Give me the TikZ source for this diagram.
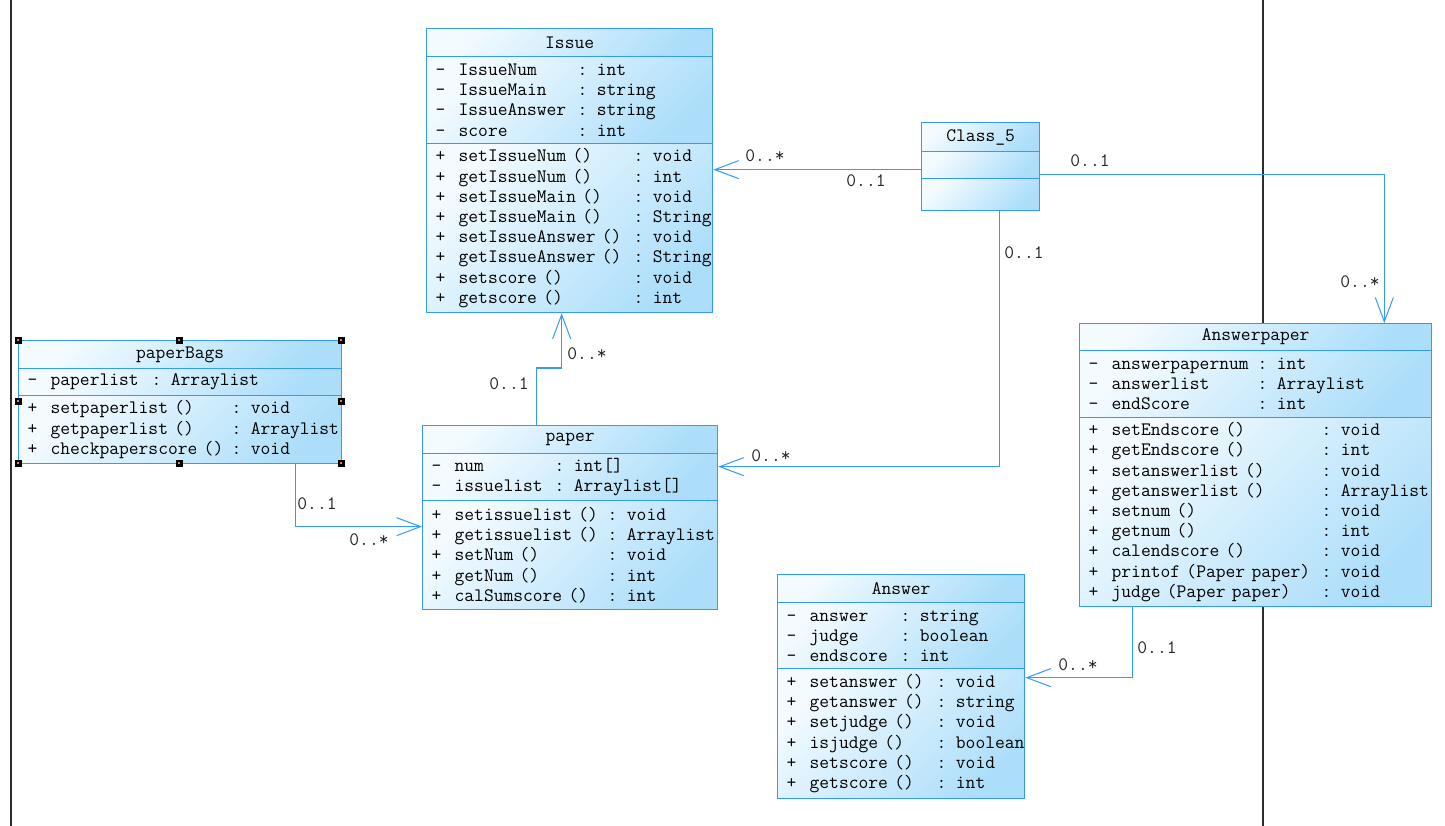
\documentclass[tikz,border=0pt]{standalone}
\usepackage{fontspec}
\usetikzlibrary{arrows.meta,calc}
\definecolor{umlblue}{RGB}{51,153,255}
\definecolor{umllight}{RGB}{244,251,255}
\definecolor{umldark}{RGB}{172,222,250}
\definecolor{frameline}{RGB}{45,45,45}
\newcommand{\mrow}[4]{\mbox{\makebox[32pt][l]{\hspace*{9pt}#1}\makebox[#2][l]{#3}#4}}
\newcommand{\umlfont}{\ttfamily\fontsize{19}{20.2}\selectfont}
\begin{document}
\begin{tikzpicture}[x=1pt,y=-1pt,
  comp/.style={draw=umlblue, line width=1.3pt, top color=umllight, bottom color=umldark,
    shading angle=45, anchor=north west, inner xsep=0pt, inner ysep=0pt, align=left, font=\umlfont},
  ctitle/.style={comp, align=center},
  assoc/.style={draw=umlblue, line width=1.2pt, -{Straight Barb[length=24pt,width=18pt,line width=1pt]}},
  mult/.style={font=\umlfont, inner sep=0pt, text=black!85},
  handle/.style={fill=black},
  frame/.style={draw=frameline, line width=1.4pt}
]
\useasboundingbox (0,0) rectangle (1445,826);
\fill[white] (0,0) rectangle (1445,826);
% frame lines
\draw[frame] (11,0) -- (11,826);
\draw[frame] (1263,0) -- (1263,826);

% Issue
\node[ctitle, minimum width=286, minimum height=28, text width=286] (issueT) at (426,28) {Issue};
\node[comp, minimum width=286, minimum height=87, text width=286] (issueA) at (426,56) {%
\mrow{-}{119pt}{IssueNum}{: int}\\
\mrow{-}{119pt}{IssueMain}{: string}\\
\mrow{-}{119pt}{IssueAnswer}{: string}\\
\mrow{-}{119pt}{score}{: int}};
\node[comp, minimum width=286, minimum height=169, text width=286] (issueM) at (426,143) {%
\mrow{+}{175pt}{setIssueNum ()}{: void}\\
\mrow{+}{175pt}{getIssueNum ()}{: int}\\
\mrow{+}{175pt}{setIssueMain ()}{: void}\\
\mrow{+}{175pt}{getIssueMain ()}{: String}\\
\mrow{+}{175pt}{setIssueAnswer ()}{: void}\\
\mrow{+}{175pt}{getIssueAnswer ()}{: String}\\
\mrow{+}{175pt}{setscore ()}{: void}\\
\mrow{+}{175pt}{getscore ()}{: int}};

% paperBags
\node[ctitle, minimum width=323, minimum height=28, text width=323] (pbT) at (18,340) {paperBags};
\node[comp, minimum width=323, minimum height=27, text width=323] (pbA) at (18,368) {%
\mrow{-}{101pt}{paperlist}{: Arraylist}};
\node[comp, minimum width=323, minimum height=68, text width=323] (pbM) at (18,395) {%
\mrow{+}{181pt}{setpaperlist ()}{: void}\\
\mrow{+}{181pt}{getpaperlist ()}{: Arraylist}\\
\mrow{+}{181pt}{checkpaperscore ()}{: void}};
\foreach \hx/\hy in {18/340,179/340,341/340,18/401,341/401,18/463,179/463,341/463}{
  \fill[handle] (\hx-3.5,\hy-3.5) rectangle (\hx+3.5,\hy+3.5);
  \fill[orange] (\hx-1.5,\hy-1.5) rectangle (\hx+0.5,\hy+0.5);}

% paper
\node[ctitle, minimum width=295, minimum height=28, text width=295] (paperT) at (422,425) {paper};
\node[comp, minimum width=295, minimum height=47, text width=295] (paperA) at (422,453) {%
\mrow{-}{100pt}{num}{: int[]}\\
\mrow{-}{100pt}{issuelist}{: Arraylist[]}};
\node[comp, minimum width=295, minimum height=109, text width=295] (paperM) at (422,500) {%
\mrow{+}{153pt}{setissuelist ()}{: void}\\
\mrow{+}{153pt}{getissuelist ()}{: Arraylist}\\
\mrow{+}{153pt}{setNum ()}{: void}\\
\mrow{+}{153pt}{getNum ()}{: int}\\
\mrow{+}{153pt}{calSumscore ()}{: int}};

% Class_5
\node[ctitle, minimum width=118, minimum height=29, text width=118] (c5T) at (921,122) {Class\_5};
\node[comp, minimum width=118, minimum height=27, text width=118] (c5A) at (921,151) {};
\node[comp, minimum width=118, minimum height=32, text width=118] (c5M) at (921,178) {};

% Answerpaper
\node[ctitle, minimum width=352, minimum height=27, text width=352] (ansT) at (1079,323) {Answerpaper};
\node[comp, minimum width=352, minimum height=67, text width=352] (ansA) at (1079,350) {%
\mrow{-}{146pt}{answerpapernum}{: int}\\
\mrow{-}{146pt}{answerlist}{: Arraylist}\\
\mrow{-}{146pt}{endScore}{: int}};
\node[comp, minimum width=352, minimum height=189, text width=352] (ansM) at (1079,417) {%
\mrow{+}{210pt}{setEndscore ()}{: void}\\
\mrow{+}{210pt}{getEndscore ()}{: int}\\
\mrow{+}{210pt}{setanswerlist ()}{: void}\\
\mrow{+}{210pt}{getanswerlist ()}{: Arraylist}\\
\mrow{+}{210pt}{setnum ()}{: void}\\
\mrow{+}{210pt}{getnum ()}{: int}\\
\mrow{+}{210pt}{calendscore ()}{: void}\\
\mrow{+}{210pt}{printof (Paper paper)}{: void}\\
\mrow{+}{210pt}{judge (Paper paper)}{: void}};

% Answer
\node[ctitle, minimum width=247, minimum height=28, text width=247] (answerT) at (777,574) {Answer};
\node[comp, minimum width=247, minimum height=66, text width=247] (answerA) at (777,602) {%
\mrow{-}{91pt}{answer}{: string}\\
\mrow{-}{91pt}{judge}{: boolean}\\
\mrow{-}{91pt}{endscore}{: int}};
\node[comp, minimum width=247, minimum height=130, text width=247] (answerM) at (777,668) {%
\mrow{+}{127pt}{setanswer ()}{: void}\\
\mrow{+}{127pt}{getanswer ()}{: string}\\
\mrow{+}{127pt}{setjudge ()}{: void}\\
\mrow{+}{127pt}{isjudge ()}{: boolean}\\
\mrow{+}{127pt}{setscore ()}{: void}\\
\mrow{+}{127pt}{getscore ()}{: int}};

% associations
\draw[assoc] ([yshift=-4.5pt]c5A.west) coordinate (a1s) -- (a1s -| issueM.east);
\draw[assoc] ([yshift=-9.5pt]c5A.east) -| ([xshift=-48pt]ansT.north east);
\draw[assoc] ([xshift=19pt]c5M.south) |- ([yshift=10.5pt]paperA.east);
\draw[assoc] ([xshift=-33.5pt]paperT.north) -- ++(0,-57) -| ([xshift=-8pt]issueM.south);
\draw[assoc] ([xshift=115.5pt]pbM.south) |- ([yshift=28.5pt]paperM.west);
\draw[assoc] ([xshift=-123pt]ansM.south) |- ([yshift=56pt]answerM.east);

% multiplicities
\node[mult] (m1a) at (765,156) {0..*};
\node[mult] (m1b) at (866,181) {0..1};
\node[mult] (m2a) at (1090,161) {0..1};
\node[mult] (m2b) at (1360,282) {0..*};
\node[mult] (m3a) at (1024,253) {0..1};
\node[mult] (m3b) at (771,456) {0..*};
\node[mult] (m4a) at (509,384) {0..1};
\node[mult] (m4b) at (587,354) {0..*};
\node[mult] (m5a) at (317,504) {0..1};
\node[mult] (m5b) at (369,540) {0..*};
\node[mult] (m6a) at (1157,648) {0..1};
\node[mult] (m6b) at (1078,665) {0..*};
\end{tikzpicture}
\end{document}
